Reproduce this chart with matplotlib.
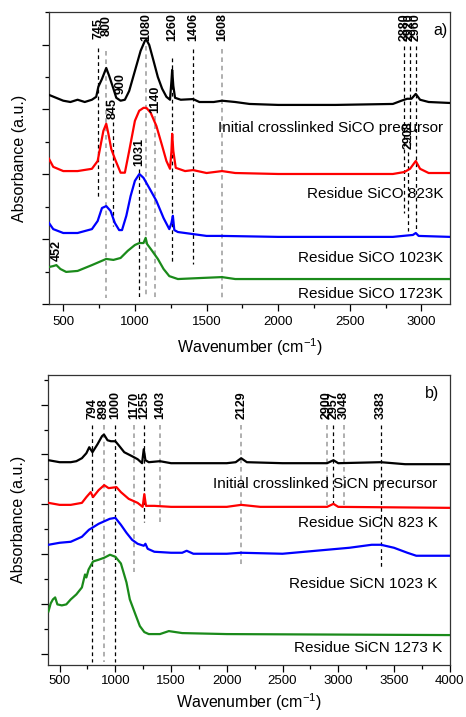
import matplotlib
matplotlib.use("Agg")
import matplotlib.pyplot as plt
from matplotlib.ticker import MultipleLocator, NullFormatter

plt.rcParams["font.family"] = ["Liberation Sans", "DejaVu Sans"]
plt.rcParams["mathtext.fontset"] = "custom"
plt.rcParams["mathtext.rm"] = "Liberation Sans"
plt.rcParams["mathtext.it"] = "Liberation Sans:italic"
plt.rcParams["mathtext.bf"] = "Liberation Sans:bold"

# ---- panel a: SiCO spectra (wavenumber, offset absorbance) ----
sico_init_x = [400, 450, 500, 550, 600, 650, 700, 730, 745, 770, 800, 820, 850, 870, 900, 930,
               960, 1000, 1040, 1070, 1080, 1100, 1130, 1160, 1190, 1220, 1245, 1255, 1260, 1268,
               1280, 1320, 1406, 1450, 1550, 1608, 1700, 1800, 2000, 2400, 2800, 2860, 2900,
               2930, 2960, 2990, 3050, 3200]
sico_init_y = [6.45, 6.36, 6.27, 6.23, 6.30, 6.23, 6.30, 6.39, 6.70, 6.94, 7.28, 7.04, 6.64, 6.36,
               6.27, 6.30, 6.57, 7.19, 7.81, 8.12, 8.15, 7.99, 7.50, 7.00, 6.64, 6.39, 6.30, 6.88,
               7.22, 6.73, 6.36, 6.30, 6.32, 6.23, 6.23, 6.27, 6.23, 6.17, 6.14, 6.14, 6.17, 6.27,
               6.33, 6.33, 6.48, 6.30, 6.23, 6.20]

sico_823_x = [400, 430, 500, 600, 700, 740, 760, 780, 800, 815, 835, 860, 900, 930, 960, 1000,
              1030, 1060, 1080, 1110, 1150, 1190, 1220, 1245, 1255, 1260, 1268, 1285, 1350, 1406,
              1500, 1608, 1700, 2000, 2800, 2880, 2920, 2960, 2990, 3050, 3200]
sico_823_y = [4.48, 4.23, 4.10, 4.10, 4.17, 4.41, 4.88, 5.34, 5.56, 5.25, 4.78, 4.48, 4.05, 4.05,
              4.72, 5.65, 5.96, 6.05, 6.05, 5.90, 5.49, 4.88, 4.41, 4.17, 4.72, 5.25, 4.72, 4.20,
              4.10, 4.13, 4.04, 4.10, 4.04, 4.01, 4.01, 4.07, 4.17, 4.41, 4.17, 4.04, 4.04]

sico_1023_x = [400, 430, 500, 600, 700, 740, 770, 800, 830, 860, 890, 910, 940, 970, 1000, 1031,
               1060, 1100, 1150, 1200, 1240, 1255, 1265, 1275, 1300, 1350, 1400, 1500, 1608,
               2000, 2800, 2940, 2960, 2980, 3200]
sico_1023_y = [2.50, 2.31, 2.19, 2.19, 2.31, 2.56, 2.96, 3.02, 2.87, 2.50, 2.28, 2.28, 2.72, 3.33,
               3.80, 4.01, 3.89, 3.58, 3.18, 2.65, 2.31, 2.50, 2.72, 2.28, 2.22, 2.19, 2.16, 2.10,
               2.10, 2.07, 2.07, 2.13, 2.19, 2.10, 2.07]

sico_1723_x = [400, 430, 452, 480, 520, 600, 700, 800, 850, 900, 950, 1000, 1031, 1060, 1075,
               1085, 1120, 1160, 1200, 1240, 1300, 1450, 1608, 1700, 2000, 3200]
sico_1723_y = [1.14, 1.17, 1.20, 1.08, 0.99, 1.02, 1.20, 1.39, 1.36, 1.42, 1.64, 1.82, 1.88,
               1.88, 2.04, 1.85, 1.64, 1.39, 1.08, 0.86, 0.77, 0.80, 0.83, 0.77, 0.77, 0.77]

# ---- panel b: SiCN spectra ----
sicn_init_x = [400, 450, 500, 600, 650, 700, 740, 766, 795, 840, 880, 898, 930, 960, 1000, 1030,
               1080, 1150, 1200, 1240, 1255, 1270, 1300, 1400, 1500, 2000, 2080, 2129, 2180,
               2500, 2900, 2957, 3000, 3383, 3600, 4000]
sicn_init_y = [7.77, 7.73, 7.69, 7.69, 7.73, 7.85, 8.05, 8.29, 8.09, 8.41, 8.73, 8.80, 8.57,
               8.53, 8.53, 8.37, 8.09, 7.93, 7.81, 7.65, 8.21, 7.77, 7.69, 7.73, 7.65, 7.65,
               7.69, 7.85, 7.69, 7.65, 7.65, 7.77, 7.65, 7.69, 7.61, 7.61]

sicn_823_x = [400, 500, 600, 700, 740, 779, 800, 850, 900, 940, 1010, 1050, 1120, 1200, 1245,
              1260, 1275, 1350, 1500, 2000, 2129, 2300, 2900, 2957, 3000, 4000]
sicn_823_y = [6.06, 5.98, 5.98, 6.06, 6.29, 6.49, 6.29, 6.57, 6.77, 6.65, 6.69, 6.49, 6.22,
              6.06, 5.90, 6.41, 5.94, 5.94, 5.90, 5.90, 5.98, 5.90, 5.90, 6.02, 5.90, 5.86]

sicn_1023_x = [400, 500, 600, 700, 763, 850, 950, 1000, 1050, 1100, 1150, 1200, 1255, 1270,
               1290, 1350, 1500, 1600, 1640, 1700, 2000, 2129, 2500, 2800, 3100, 3300, 3383,
               3500, 3620, 3700, 4000]
sicn_1023_y = [4.38, 4.46, 4.50, 4.70, 4.98, 5.22, 5.42, 5.46, 5.18, 4.86, 4.58, 4.42, 4.34,
               4.42, 4.22, 4.10, 4.06, 4.06, 4.14, 4.02, 4.02, 4.06, 4.02, 4.14, 4.26, 4.38,
               4.38, 4.26, 4.06, 3.94, 3.94]

sicn_1273_x = [400, 420, 440, 460, 480, 520, 560, 600, 650, 700, 728, 740, 760, 800, 850, 900,
               952, 1000, 1050, 1100, 1130, 1180, 1220, 1260, 1300, 1400, 1480, 1600, 2000, 4000]
sicn_1273_y = [1.71, 2.03, 2.19, 2.27, 1.99, 1.95, 1.99, 2.19, 2.39, 2.67, 3.19, 3.07, 3.39,
               3.71, 3.78, 3.86, 3.98, 3.90, 3.63, 2.87, 2.19, 1.59, 1.12, 0.88, 0.80, 0.80,
               0.92, 0.84, 0.80, 0.76]

labels_a = ["Initial crosslinked SiCO precursor", "Residue SiCO 823K",
            "Residue SiCO 1023K", "Residue SiCO 1723K"]
labels_b = ["Initial crosslinked SiCN precursor", "Residue SiCN 823 K",
            "Residue SiCN 1023 K", "Residue SiCN 1273 K"]

# peak markers: (wavenumber, label bottom, line top, line bottom, line colour)
peaks_a = [
    (745, 8.18, 7.90, 3.24, "k"),
    (800, 8.27, 7.81, 0.19, "gray"),
    (845, 5.71, 5.62, 2.40, "k"),
    (900, 6.48, None, None, None),
    (1031, 4.26, 4.17, 0.19, "k"),
    (1080, 8.12, 7.96, 0.19, "gray"),
    (1140, 5.90, 5.80, 0.19, "gray"),
    (1260, 8.12, 7.59, 1.23, "k"),
    (1406, 8.12, 7.87, 1.23, "k"),
    (1608, 8.12, 7.87, 0.19, "gray"),
    (2880, 8.12, 7.96, 2.81, "k"),
    (2908, 4.78, 4.68, 2.25, "k"),
    (2920, 8.12, 7.96, 4.90, "k"),
    (2960, 8.12, 7.96, 2.25, "k"),
    (452, 1.33, None, None, None),
]
peaks_b = [
    (794, 9.42, 9.20, -0.30, "k"),
    (898, 9.42, 9.20, -0.30, "gray"),
    (1000, 9.42, 9.20, -0.30, "k"),
    (1170, 9.42, 9.20, 3.27, "gray"),
    (1255, 9.42, 9.20, 5.30, "k"),
    (1403, 9.42, 9.20, 5.30, "gray"),
    (2129, 9.42, 9.20, 3.50, "gray"),
    (2900, 9.42, 9.20, 5.98, "gray"),
    (2957, 9.42, 9.20, 5.98, "k"),
    (3048, 9.42, 9.20, 5.98, "gray"),
    (3383, 9.42, 9.20, 3.50, "k"),
]

colors = ["black", "#ff0000", "#0000ff", "#1a8a1a"]
gray = "#9a9a9a"

fig = plt.figure(figsize=(4.66, 7.17), dpi=100)
ax1 = fig.add_axes([0.105, 0.576, 0.861, 0.407])
ax2 = fig.add_axes([0.104, 0.0725, 0.861, 0.405])


def draw_peaks(ax, peaks):
    for wn, ly, y0, y1, c in peaks:
        ax.text(wn, ly, str(wn), rotation=90, ha="center", va="bottom",
                fontsize=9, fontweight="bold", zorder=5)
        if y0 is not None:
            col = gray if c == "gray" else "black"
            ax.plot([wn, wn], [y0, y1], color=col, lw=0.9 if c == "k" else 1.1,
                    dashes=(3, 2.5), zorder=1)


def style_axis(ax, major_y, tickpad, labelpad):
    ax.xaxis.set_major_locator(MultipleLocator(500))
    ax.xaxis.set_minor_locator(MultipleLocator(250))
    ax.yaxis.set_major_locator(MultipleLocator(major_y))
    ax.yaxis.set_minor_locator(MultipleLocator(major_y / 2))
    ax.yaxis.set_major_formatter(NullFormatter())
    ax.tick_params(which="major", length=5, width=0.9, labelsize=9.5)
    ax.tick_params(which="minor", length=3, width=0.9)
    ax.tick_params(axis="x", which="major", pad=tickpad)
    for s in ax.spines.values():
        s.set_linewidth(0.9)
        s.set_color("#333333")
    ax.set_xlabel("Wavenumber (cm$^{-1}$)", fontsize=11.5, labelpad=labelpad)
    ax.set_ylabel("Absorbance (a.u.)", fontsize=11.5)
    ax.yaxis.set_label_coords(-0.055, 0.5)


# panel a
for xs, ys, c in zip([sico_init_x, sico_823_x, sico_1023_x, sico_1723_x],
                     [sico_init_y, sico_823_y, sico_1023_y, sico_1723_y], colors):
    ax1.plot(xs, ys, color=c, lw=1.6, zorder=3)
draw_peaks(ax1, peaks_a)
for lab, ly in zip(labels_a, [5.43, 3.40, 1.42, 0.31]):
    ax1.text(0.983, ly, lab, transform=ax1.get_yaxis_transform(), ha="right", va="center",
             fontsize=11, zorder=6)
ax1.text(0.975, 8.43, "a)", transform=ax1.get_yaxis_transform(), ha="center", va="center",
         fontsize=11.5)
ax1.set_xlim(400, 3200)
ax1.set_ylim(0, 9)
style_axis(ax1, 2, 3.5, 6)

# panel b
for xs, ys, c in zip([sicn_init_x, sicn_823_x, sicn_1023_x, sicn_1273_x],
                     [sicn_init_y, sicn_823_y, sicn_1023_y, sicn_1273_y], colors):
    ax2.plot(xs, ys, color=c, lw=1.6, zorder=3)
draw_peaks(ax2, peaks_b)
for lab, ly, lx in zip(labels_b, [6.81, 5.26, 2.79, 0.24], [0.97, 0.97, 0.97, 0.982]):
    ax2.text(lx, ly, lab, transform=ax2.get_yaxis_transform(), ha="right", va="center",
             fontsize=11, zorder=6)
ax2.text(0.955, 10.44, "b)", transform=ax2.get_yaxis_transform(), ha="center", va="center",
         fontsize=11.5)
ax2.set_xlim(400, 4000)
ax2.set_ylim(-0.44, 11.2)
style_axis(ax2, 2, 2.5, 3)

fig.savefig("out.png", dpi=100)
